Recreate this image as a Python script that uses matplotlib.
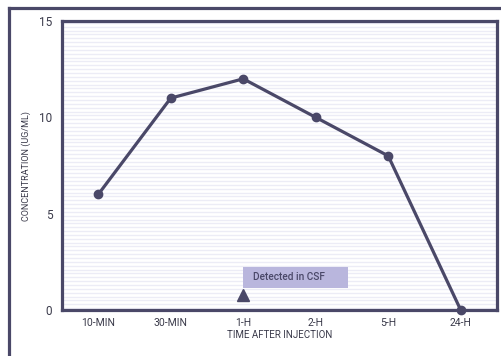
import numpy as np
import matplotlib.pyplot as plt
from matplotlib.lines import Line2D
from matplotlib.patches import Rectangle

plt.rcParams['font.family'] = ['Roboto', 'DejaVu Sans']

# Dữ liệu
times = ['10-MIN', '30-MIN', '1-H', '2-H', '5-H', '24-H']
conc = [6, 11, 12, 10, 8, 0]
y_ticks = [0, 5, 10, 15]
note_text = 'Detected in CSF'
note_idx = 2

dark = '#4a4868'
txt = '#3a3a4a'

fig = plt.figure(figsize=(5.02, 3.56), dpi=100)
ax = fig.add_axes([0.1235, 0.129, 0.8665, 0.812])

# Nền sọc ngang
for yy in np.arange(0.1, 15, 0.2):
    ax.axhline(yy, color='#ececf6', lw=1.0, zorder=0)

x = np.arange(len(times))
ax.plot(x, conc, color=dark, lw=2.3, marker='o', markersize=6, zorder=3, clip_on=False)

# Ghi chú
ax.plot(note_idx, 0.8, marker='^', color=dark, markersize=8, zorder=4)
ax.add_patch(Rectangle((note_idx, 1.15), 1.44, 1.1, fc='#b9b6dd', ec='none', zorder=4))
ax.text(note_idx + 0.14, 1.72, note_text, fontsize=7.3, color=dark, va='center', ha='left',
        fontweight='medium', zorder=5)

ax.set_xlim(-0.5, 5.5)
ax.set_ylim(0, 15)
ax.set_xticks(x)
ax.set_xticklabels(times)
ax.set_yticks(y_ticks)
ax.tick_params(length=0, colors=txt, labelsize=7.5)
ax.tick_params(axis='y', labelsize=8.5, pad=7)
ax.tick_params(axis='x', pad=6)
for s in ax.spines.values():
    s.set_color(dark)
    s.set_linewidth(2.3)

ax.set_xlabel('TIME AFTER INJECTION', fontsize=7, color=txt, labelpad=1)
ax.set_ylabel('CONCENTRATION (UG/ML)', fontsize=6.5, color=txt, labelpad=6)

# Khung ngoài
fig.add_artist(Line2D([0.017, 1.0], [0.977, 0.977], color=dark, lw=2.3))
fig.add_artist(Line2D([0.017, 0.017], [0.0, 0.977], color=dark, lw=2.3))

fig.savefig('out.png', dpi=100)
